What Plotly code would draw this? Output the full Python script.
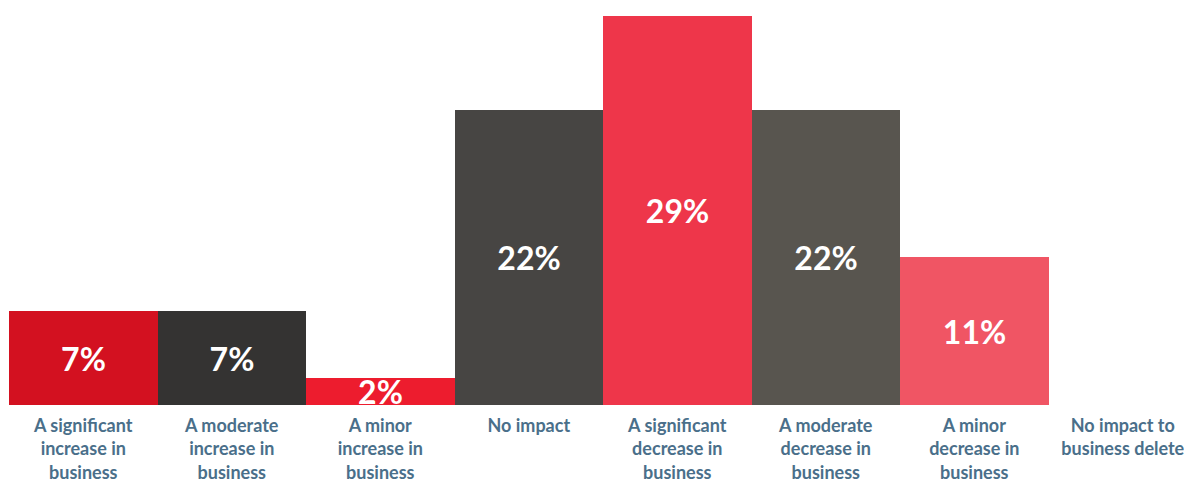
import plotly.graph_objects as go

categories = [
    "A significant<br>increase in<br>business",
    "A moderate<br>increase in<br>business",
    "A minor<br>increase in<br>business",
    "No impact",
    "A significant<br>decrease in<br>business",
    "A moderate<br>decrease in<br>business",
    "A minor<br>decrease in<br>business",
    "No impact to<br>business delete",
]
values = [7, 7, 2, 22, 29, 22, 11, None]
labels = ["7%", "7%", "2%", "22%", "29%", "22%", "11%", ""]
colors = ["#D31120", "#343332", "#ED1C2E", "#474543", "#EE364A", "#58554F", "#F05564", "#FFFFFF"]

fig = go.Figure(
    go.Bar(
        x=list(range(len(categories))),
        y=values,
        text=labels,
        textposition="inside",
        insidetextanchor="middle",
        constraintext="none",
        textfont=dict(family="Lato", size=32, color="white", weight="bold"),
        marker=dict(color=colors, line=dict(width=0)),
        width=1.0,
        hoverinfo="skip",
    )
)

fig.update_layout(
    width=1184,
    height=482,
    margin=dict(l=1, r=0, t=0, b=85),
    paper_bgcolor="white",
    plot_bgcolor="white",
    showlegend=False,
    bargap=0,
)
fig.update_xaxes(
    tickmode="array",
    tickvals=list(range(len(categories))),
    ticktext=categories,
    range=[-0.5, 7.466],
    showgrid=False,
    zeroline=False,
    showline=False,
    ticks="",
    automargin=False,
    ticklabelstandoff=8,
    tickfont=dict(family="Lato", size=18, color="#4A6F8A", weight="bold"),
)
fig.update_yaxes(
    range=[0, 29.56],
    visible=False,
    showgrid=False,
    zeroline=False,
    automargin=False,
)

fig.write_html("out.html")
